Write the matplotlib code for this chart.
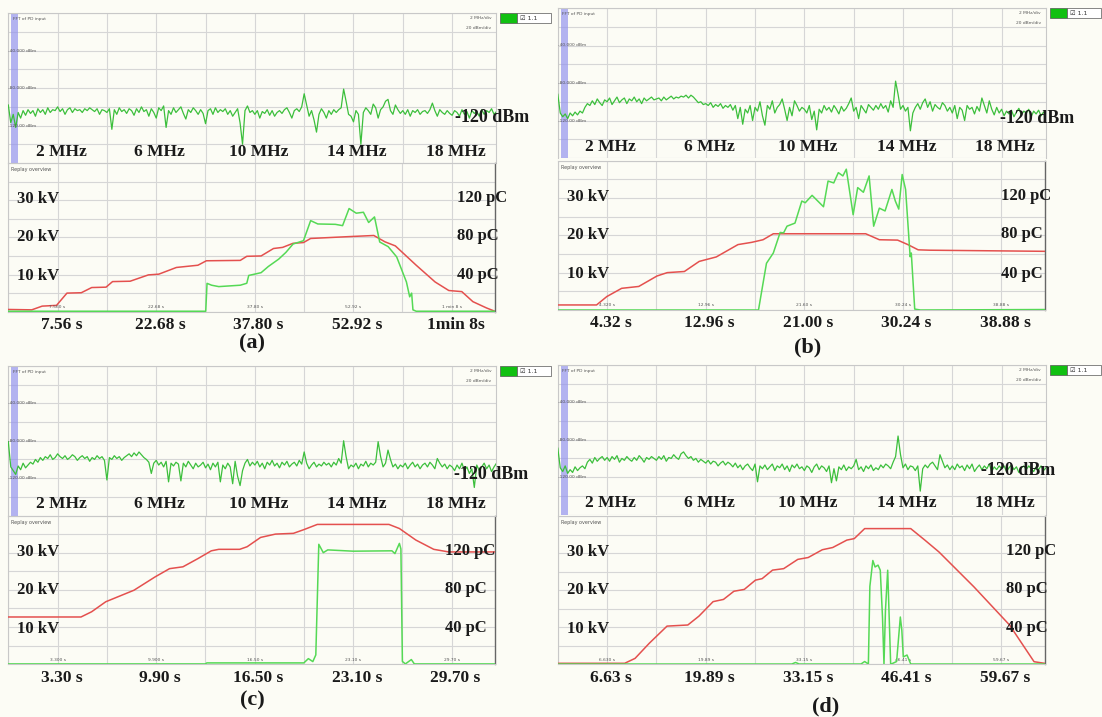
import numpy as np
import matplotlib
matplotlib.use("Agg")
import matplotlib.pyplot as plt
from matplotlib.patches import Rectangle

W, H = 1102, 717

# FFT of PD input, dBm in 0.1 MHz bins from 0 to 19.8 MHz
FFT_STEP_MHZ = 0.1
fft_a = [
    -98, -117, -108, -122, -106, -112, -104, -109, -103, -107,
    -104, -110, -102, -106, -103, -108, -101, -106, -103, -104,
    -100, -105, -102, -108, -103, -101, -106, -102, -104, -103,
    -106, -102, -104, -101, -103, -105, -102, -108, -103, -104,
    -106, -102, -124, -103, -108, -101, -105, -103, -107, -102,
    -104, -109, -102, -106, -100, -105, -103, -110, -102, -106,
    -112, -101, -104, -99, -122, -104, -108, -101, -106, -103,
    -100, -107, -113, -103, -106, -101, -104, -108, -103, -107,
    -118, -104, -102, -108, -101, -106, -103, -105, -102, -108,
    -104, -110, -106, -102, -117, -140, -104, -99, -106, -104,
    -108, -104, -112, -105, -107, -103, -109, -104, -110, -106,
    -104, -107, -103, -101, -106, -112, -104, -102, -105, -100,
    -86, -98, -110, -104, -114, -127, -108, -102, -106, -112,
    -104, -108, -103, -106, -103, -101, -81, -94, -108, -110,
    -116, -104, -108, -140, -106, -101, -104, -108, -97, -101,
    -112, -103, -100, -94, -92, -104, -108, -98, -103, -107,
    -104, -108, -103, -110, -104, -106, -103, -108, -105, -104,
    -107, -103, -96, -104, -110, -103, -106, -108, -104, -107,
    -109, -104, -106, -110, -103, -108, -105, -112, -104, -107,
    -105, -110, -103, -108, -104, -106, -102, -108, -105,
]
fft_b = [
    -92, -112, -116, -113, -118, -112, -115, -111, -114, -110,
    -112, -106, -102, -104, -99, -103, -97, -101, -104, -98,
    -100, -96, -103, -99, -95, -101, -98, -96, -102, -97,
    -99, -95, -100, -97, -102, -96, -99, -97, -95, -98,
    -97, -96, -99, -95, -98, -96, -94, -97, -95, -96,
    -94, -95, -93, -96, -93, -95, -98, -101, -100, -103,
    -102, -104, -101, -106, -103, -105, -102, -107, -104, -106,
    -103, -109, -104, -118, -106, -124, -108, -112, -104, -120,
    -106, -110, -100, -115, -125, -104, -108, -99, -112, -106,
    -103, -97, -108, -120, -106, -115, -99, -104, -110, -106,
    -108, -112, -104, -119, -110, -130, -108, -112, -104, -109,
    -106, -111, -104, -108, -113, -105, -110, -107, -102, -96,
    -110, -106, -118, -104, -108, -112, -103, -106, -109, -104,
    -108, -102, -107, -104, -111, -99, -106, -78, -92, -108,
    -104, -110, -106, -131, -112, -106, -102, -108, -101, -97,
    -106, -100, -110, -103, -106, -108, -101, -104, -110, -106,
    -112, -104, -118, -106, -109, -120, -104, -108, -106, -113,
    -105, -110, -96, -104, -112, -99, -108, -114, -106, -112,
    -108, -115, -110, -113, -109, -116, -111, -107, -114, -110,
    -112, -108, -116, -110, -113, -109, -115, -111, -114,
]
fft_c = [
    -81, -108, -112, -116, -107, -111, -104, -109, -106, -103,
    -105, -100, -103, -98, -101, -97, -99, -95, -100, -98,
    -94, -97, -99, -96, -100, -98, -95, -97, -101, -98,
    -96, -99, -97, -102, -98, -100, -96, -99, -97, -101,
    -122, -98, -100, -96, -99, -97, -101, -98, -96, -94,
    -97, -93, -96, -92, -95, -98, -100, -103, -115, -104,
    -101, -106, -103, -108, -102, -124, -104, -107, -103, -105,
    -123, -104, -108, -102, -106, -110, -104, -108, -106, -103,
    -109, -105, -111, -104, -108, -103, -124, -106, -110, -104,
    -108, -126, -102, -118, -128, -112, -104, -100, -107, -103,
    -106, -102, -108, -104, -110, -103, -106, -101, -107, -104,
    -109, -103, -106, -102, -108, -105, -103, -107, -101, -105,
    -92, -104, -110, -106, -103, -108, -105, -107, -103, -106,
    -104, -108, -103, -106, -99, -104, -80, -97, -110, -106,
    -108, -104, -110, -105, -107, -102, -108, -104, -106, -103,
    -81, -97, -108, -104, -90, -100, -108, -105, -110, -106,
    -108, -104, -110, -106, -103, -108, -105, -110, -106, -104,
    -108, -103, -106, -110, -99, -104, -108, -105, -110, -106,
    -108, -112, -106, -110, -104, -112, -108, -115, -110, -130,
    -106, -112, -108, -104, -110, -106, -113, -108, -104,
]
fft_d = [
    -89, -110, -114, -108, -116, -112, -115, -109, -113, -110,
    -108, -111, -104, -101, -105, -99, -103, -100, -98, -102,
    -99, -103, -98, -101, -97, -104, -100, -102, -98, -101,
    -103, -99, -102, -97, -100, -104, -99, -101, -98, -100,
    -102, -98, -101, -97, -103, -99, -100, -96, -99, -101,
    -95, -93, -97, -100, -98, -102, -100, -104, -101, -103,
    -105, -102, -106, -103, -104, -108, -105, -103, -107, -104,
    -106, -109, -105, -110, -107, -112, -108, -106, -110, -113,
    -106, -125, -108, -111, -107, -112, -109, -106, -113, -108,
    -110, -106, -112, -108, -114, -107, -110, -106, -111, -109,
    -113, -108, -110, -115, -109, -106, -112, -108, -110, -114,
    -108, -126, -111, -124, -109, -112, -107, -113, -109, -111,
    -108, -101, -112, -109, -114, -108, -111, -107, -113, -110,
    -112, -107, -110, -106, -108, -111, -104, -98, -76, -96,
    -110, -106, -112, -108, -109, -113, -108, -135, -111, -107,
    -110, -106, -104, -108, -112, -96, -103, -110, -107, -112,
    -108, -112, -106, -110, -108, -113, -107, -111, -106, -114,
    -110, -107, -112, -108, -111, -106, -114, -109, -112, -108,
    -111, -108, -114, -110, -107, -112, -109, -115, -110, -108,
    -112, -108, -111, -114, -109, -112, -108, -113, -110,
]

# Replay overview: applied voltage (kV) and PD magnitude (pC) against time (s)
volt_t_a = [0, 3.6, 5.2, 7.4, 9.0, 11.2, 12.8, 15.0, 16.0, 18.7, 21.5, 23.1, 25.8, 29.1, 30.4,
            35.6, 36.6, 38.8, 40.7, 42.1, 43.7, 45.3, 46.4, 52.3, 56.1, 57.8, 59.4, 62.6, 65.5,
            67.6, 69.6, 71.3, 73.4, 74.7]
volt_kv_a = [0.6, 0.5, 1.5, 1.7, 5.0, 5.1, 6.5, 6.6, 8.1, 8.2, 9.9, 10.1, 11.9, 12.5, 13.7,
             13.8, 14.9, 15.0, 17.0, 17.3, 18.4, 18.6, 19.7, 20.2, 20.5, 18.8, 17.7, 12.5, 8.0,
             5.7, 5.4, 2.7, 1.0, 0.1]
pd_t_a = [0, 30.3, 30.5, 31.2, 32.3, 35.6, 36.6, 36.9, 38.8, 39.9, 41.5, 42.6, 43.7, 45.3,
          46.4, 47.5, 50.2, 51.3, 52.3, 53.4, 54.5, 55.3, 56.2, 57.0, 58.3, 59.6, 61.1, 61.6,
          61.9, 62.1, 62.6, 74.7]
pd_pc_a = [0.5, 0.5, 30.5, 28.5, 27, 28.5, 30.6, 39, 42, 48.6, 56.6, 63.8, 72.8, 76.4,
           98, 94.4, 94, 92.6, 111, 106, 107, 96, 102, 75, 70, 59, 32, 16,
           20, 2, 0.5, 0.5]

volt_t_b = [0, 3.4, 4.3, 5.6, 7.1, 8.7, 9.6, 11.1, 12.4, 13.9, 15.8, 17.0, 18.0, 18.9, 27.0,
            28.2, 29.8, 30.7, 31.6, 32.6, 42.7]
volt_kv_b = [1.35, 1.35, 3.6, 5.8, 6.3, 9.1, 10.0, 10.3, 13.0, 14.2, 17.5, 18.1, 18.8, 20.4, 20.4,
             18.8, 18.7, 17.5, 16.1, 16.0, 15.7]
pd_t_b = [0, 17.6, 18.0, 18.3, 18.9, 19.5, 19.8, 20.1, 20.8, 21.4, 21.7, 22.3, 23.3, 23.7,
          24.2, 24.6, 25.0, 25.3, 25.9, 26.3, 26.8, 27.3, 27.7, 28.2, 28.7, 29.3, 29.6, 29.9,
          30.2, 30.5, 30.9, 31.0, 31.3, 31.8, 42.7]
pd_pc_b = [0, 0, 28.7, 50, 61, 83, 82.5, 89.7, 93, 116.6, 114.8, 122.7, 110.5, 138,
           136, 147, 143.5, 150.7, 102, 131, 126, 143.5, 89.7, 109, 106, 129, 116.6, 108,
           145, 129, 57, 61, 1, 0, 0.5]

volt_t_c = [0, 4.87, 5.58, 6.53, 8.42, 9.84, 10.8, 11.7, 12.7, 13.6, 14.1, 15.5, 16.0, 16.9,
            17.9, 19.1, 19.8, 20.7, 25.5, 26.2, 27.3, 28.5, 29.5, 32.6]
volt_kv_c = [12.7, 12.7, 14.1, 16.8, 19.9, 23.5, 25.7, 26.2, 28.4, 30.5, 30.9, 30.9, 31.6, 34.1,
             35.0, 35.2, 36.2, 37.6, 37.6, 36.5, 33.4, 30.9, 30.2, 30.2]
pd_t_c = [0, 13.2, 13.3, 19.8, 20.1, 20.4, 20.6, 20.8, 21.1, 21.4, 23.1, 25.7, 25.9, 26.2,
          26.3, 26.4, 26.6, 27.0, 27.2, 32.6]
pd_pc_c = [0.3, 0.3, 1.4, 1.4, 6, 2.8, 10, 129, 120, 123, 121.6, 122, 119, 130,
           124, 3, 0.3, 5, 0.3, 0.3]

volt_t_d = [0, 9.0, 10.4, 12.3, 14.7, 17.5, 19.0, 20.9, 22.3, 23.7, 25.1, 26.6, 27.5, 28.9,
            30.4, 32.3, 33.7, 35.6, 37.0, 38.9, 39.9, 41.3, 47.5, 49.4, 51.3, 56.0, 60.8, 64.1,
            65.5]
volt_kv_d = [0.27, 0.27, 1.6, 5.65, 10.3, 10.6, 13.0, 16.9, 17.5, 19.7, 20.2, 22.7, 23.1, 25.4,
             25.8, 28.3, 28.8, 30.9, 31.5, 33.5, 33.9, 36.6, 36.6, 33.5, 30.3, 20.9, 10.6, 0.7,
             0.27]
pd_t_d = [0, 31.5, 32.0, 32.5, 40.8, 41.3, 41.8, 42.0, 42.4, 42.7, 43.1, 43.4, 43.7, 43.9,
          44.1, 44.4, 44.6, 44.8, 45.6, 46.1, 46.3, 46.5, 47.0, 47.5, 65.5]
pd_pc_d = [0.3, 0.3, 2, 0.3, 0.3, 3, 0.3, 84, 112, 105, 107, 101.5, 51, 0,
           58.5, 101.5, 51, 0, 3, 51, 37, 8, 10, 0.3, 0.3]

sec_per_div = [7.56, 4.32, 3.30, 6.63]
small_time_labels = [
    ["7.560 s", "22.68 s", "37.80 s", "52.92 s", "1 min 8 s"],
    ["4.320 s", "12.96 s", "21.60 s", "30.24 s", "38.88 s"],
    ["3.300 s", "9.900 s", "16.50 s", "23.10 s", "29.70 s"],
    ["6.630 s", "19.89 s", "33.15 s", "46.41 s", "59.67 s"],
]
big_time_labels = [
    ["7.56 s", "22.68 s", "37.80 s", "52.92 s", "1min 8s"],
    ["4.32 s", "12.96 s", "21.00 s", "30.24 s", "38.88 s"],
    ["3.30 s", "9.90 s", "16.50 s", "23.10 s", "29.70 s"],
    ["6.63 s", "19.89 s", "33.15 s", "46.41 s", "59.67 s"],
]
mhz_ticks = [2, 6, 10, 14, 18]
kv_labels = ["30 kV", "20 kV", "10 kV"]
kv_values = [30.3, 20.0, 9.6]
pc_labels = ["120 pC", "80 pC", "40 pC"]
pc_values = [122, 81, 39]
panel_letters = ["(a)", "(b)", "(c)", "(d)"]

ffts = [fft_a, fft_b, fft_c, fft_d]
volts = [(volt_t_a, volt_kv_a), (volt_t_b, volt_kv_b), (volt_t_c, volt_kv_c), (volt_t_d, volt_kv_d)]
pds = [(pd_t_a, pd_pc_a), (pd_t_b, pd_pc_b), (pd_t_c, pd_pc_c), (pd_t_d, pd_pc_d)]

# pixel layout of each screen capture
LAYOUT = [
    dict(fft=(8.3, 13.3, 496, 163), rep=(8.3, 163, 495, 311.7), letter=(252, 343), pc_x=0.922, dbm=(19.64, -111)),
    dict(fft=(557.8, 8, 1045.5, 158), rep=(557.8, 160.5, 1044.5, 310), letter=(808, 347), pc_x=0.91, dbm=(19.44, -118)),
    dict(fft=(8.3, 366, 496, 515.5), rep=(8.3, 515.5, 495, 664.2), letter=(252, 700), pc_x=0.897, dbm=(19.58, -116)),
    dict(fft=(557.8, 365, 1045.5, 514.5), rep=(557.8, 516, 1044.5, 664.3), letter=(826, 706), pc_x=0.92, dbm=(18.66, -113)),
]

BG = "#fcfcf5"
GRID = "#d6d6d6"
FFT_GREEN = "#3cbf3c"
PD_GREEN = "#55d955"
VOLT_RED = "#e4504e"
SMALL = dict(family="DejaVu Sans", color="#555555")
BIG = dict(family="Liberation Serif", weight="bold", color="#1a1a1a")


def px_rect(box):
    x0, y0, x1, y1 = box
    return [x0 / W, 1 - y1 / H, (x1 - x0) / W, (y1 - y0) / H]


def style_box(ax):
    ax.set_facecolor(BG)
    ax.grid(True, color=GRID, lw=0.8)
    ax.tick_params(length=0, labelbottom=False, labelleft=False)
    for s in ax.spines.values():
        s.set_color("#c8c8c8")
        s.set_linewidth(0.8)
    ax.set_axisbelow(True)


fig = plt.figure(figsize=(W / 100, H / 100), dpi=100, facecolor=BG)

for i, lay in enumerate(LAYOUT):
    # ---- spectrum ----
    ax = fig.add_axes(px_rect(lay["fft"]))
    style_box(ax)
    spec = np.array(ffts[i])
    freq = np.arange(len(spec)) * FFT_STEP_MHZ
    ax.set_xlim(0, 19.78)
    ax.set_ylim(-160, 0)
    ax.set_xticks(np.arange(0, 20, 2))
    ax.set_yticks(np.arange(-160, 1, 20))
    ax.spines["bottom"].set_visible(False)
    ax.axvspan(0.12, 0.40, color="#9494ee", alpha=0.7, lw=0, zorder=1)
    ax.plot(freq, spec, color=FFT_GREEN, lw=0.9, zorder=3)

    ax.text(0.18, -4, "FFT of PD input", fontsize=3.2, va="top", **SMALL)
    for lvl, s in zip([-40, -80, -120], ["-40.000 dBm", "-80.000 dBm", "-120.00 dBm"]):
        ax.text(0.0, lvl, s, fontsize=3.2, va="center", ha="left", **SMALL)
    ax.text(19.6, -5, "2 MHz/div", fontsize=3.2, ha="right", va="center", **SMALL)
    ax.text(19.6, -16, "20 dBm/div", fontsize=3.2, ha="right", va="center", **SMALL)
    for f in mhz_ticks:
        ax.text(f + 0.15, -148, f"{f} MHz", fontsize=12.5, ha="center", va="center", **BIG)
    fx, fy = lay["dbm"]
    ax.text(fx, fy, "-120 dBm", fontsize=13, ha="center", va="center", zorder=5, **BIG)

    # legend chip to the right of the spectrum
    x0, y0, x1, y1 = lay["fft"]
    fig.patches.append(Rectangle(((x1 + 4) / W, 1 - (y0 + 10) / H), 17 / W, 10 / H,
                                 transform=fig.transFigure, facecolor="#11c011", edgecolor="#555555", lw=0.5))
    fig.patches.append(Rectangle(((x1 + 21) / W, 1 - (y0 + 10) / H), 34 / W, 10 / H,
                                 transform=fig.transFigure, facecolor="white", edgecolor="#555555", lw=0.5))
    fig.text((x1 + 24) / W, 1 - (y0 + 5) / H, "\u2611 1.1", fontsize=4.5, va="center",
             family="DejaVu Sans", color="#333333")

    # ---- replay overview ----
    rx0, ry0, rx1, ry1 = lay["rep"]
    sd = sec_per_div[i]
    axr = fig.add_axes(px_rect(lay["rep"]))
    style_box(axr)
    axr.set_xlim(0, 9.88 * sd)
    axr.set_ylim(0, 40)
    axr.set_xticks(np.arange(0, 9.9 * sd, sd))
    axr.set_yticks(np.arange(0, 41, 5))
    axr.spines["right"].set_color("#666666")
    axr.spines["right"].set_linewidth(1.0)
    vt, vk = volts[i]
    axr.plot(vt, vk, color=VOLT_RED, lw=1.1, zorder=3)

    axp = axr.twinx()
    axp.set_ylim(0, 160)
    axp.tick_params(length=0, labelright=False)
    for s in axp.spines.values():
        s.set_visible(False)
    pt, pc = pds[i]
    axp.plot(pt, pc, color=PD_GREEN, lw=1.1, zorder=2)

    axr.text(0.006, 0.955, "Replay overview", transform=axr.transAxes, fontsize=3.5, va="center", **SMALL)
    for k, s in enumerate(small_time_labels[i]):
        axr.text((2 * k + 1) * sd, 0.7, s, fontsize=3.2, ha="center", va="bottom", **SMALL)
    for k, s in enumerate(big_time_labels[i]):
        axr.text((2 * k + 1.08) * sd, -0.09, s, transform=axr.get_xaxis_transform(),
                 fontsize=12.5, ha="center", va="center", **BIG)
    for v, s in zip(kv_values, kv_labels):
        axr.text(0.018, v, s, transform=axr.get_yaxis_transform(), fontsize=12,
                 ha="left", va="center", **BIG)
    for v, s in zip(pc_values, pc_labels):
        axp.text(lay["pc_x"], v, s, transform=axp.get_yaxis_transform(), fontsize=12,
                 ha="left", va="center", zorder=6, **BIG)

    lx, ly = lay["letter"]
    fig.text(lx / W, 1 - ly / H, panel_letters[i], fontsize=16, ha="center", va="center", **BIG)

fig.savefig("out.png", dpi=100, facecolor=BG)
